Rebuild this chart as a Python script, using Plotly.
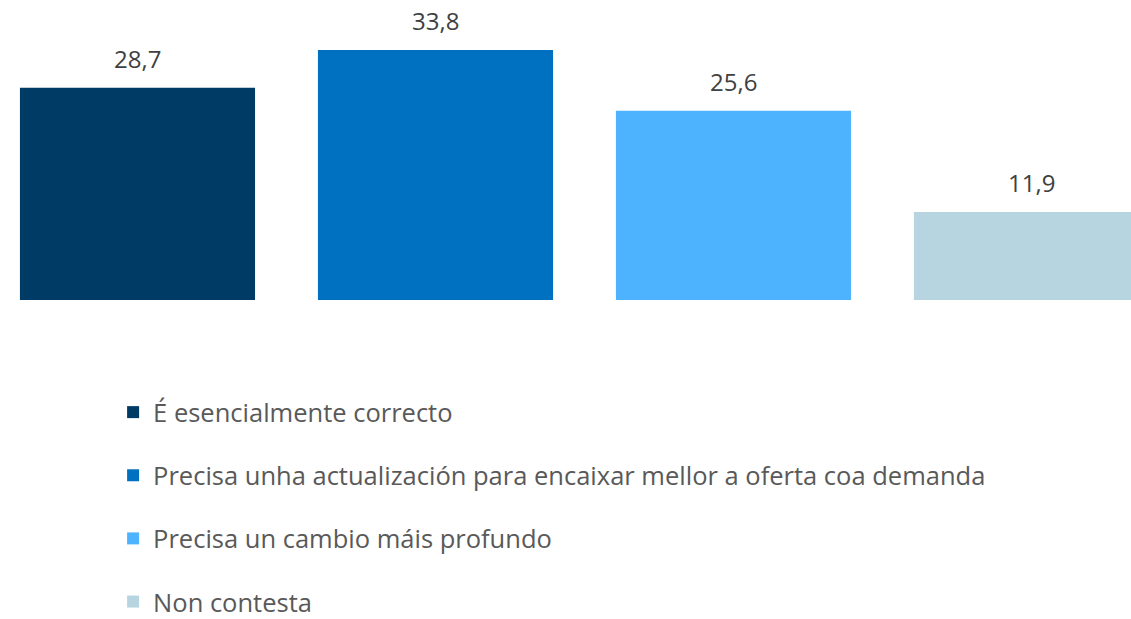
import plotly.graph_objects as go

# Survey answers and their shares (%)
categories = [
    "É esencialmente correcto",
    "Precisa unha actualización para encaixar mellor a oferta coa demanda",
    "Precisa un cambio máis profundo",
    "Non contesta",
]
values = [28.7, 33.8, 25.6, 11.9]
colors = ["#003B66", "#0070C0", "#4DB3FF", "#B6D5E0"]

FONT = "Open Sans"

fig = go.Figure()
for i, (name, val, col) in enumerate(zip(categories, values, colors)):
    fig.add_trace(go.Bar(
        x=[i], y=[val], name=name, width=[0.789],
        marker=dict(color=col, line=dict(width=0)),
        legendgroup=f"g{i}", hoverinfo="skip",
    ))
    # value label above each bar
    fig.add_annotation(
        x=i, y=val, text=f"{val:.1f}".replace(".", ","),
        showarrow=False, yanchor="bottom", yshift=11,
        font=dict(size=24, color="#404040", family=FONT),
    )

fig.update_layout(
    width=1131, height=619,
    margin=dict(l=0, r=0, t=20, b=319, autoexpand=False),
    paper_bgcolor="white", plot_bgcolor="white",
    barmode="overlay",
    font=dict(family=FONT, color="#595959"),
    xaxis=dict(range=[-0.4614, 3.334], visible=False, fixedrange=True),
    yaxis=dict(range=[0, 37.86], visible=False, fixedrange=True),
    showlegend=True,
    legend=dict(
        orientation="v", x=0.1, xanchor="left", y=-0.318, yanchor="top",
        font=dict(size=25.5, color="#595959", family=FONT),
        tracegroupgap=27, traceorder="grouped",
        bgcolor="rgba(0,0,0,0)",
    ),
)

fig.write_html("out.html")
